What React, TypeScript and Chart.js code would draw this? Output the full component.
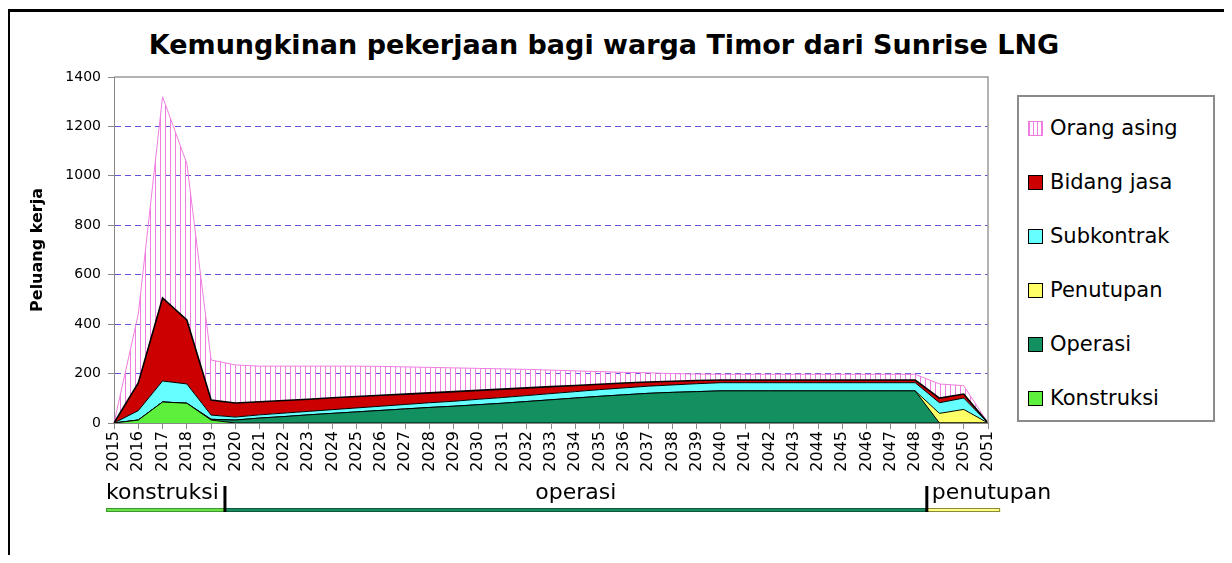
import React, { useEffect, useRef } from 'react';
import { Chart, registerables } from 'chart.js';

Chart.register(...registerables);

const years = [
  '2015', '2016', '2017', '2018', '2019', '2020', '2021', '2022', '2023', '2024',
  '2025', '2026', '2027', '2028', '2029', '2030', '2031', '2032', '2033', '2034',
  '2035', '2036', '2037', '2038', '2039', '2040', '2041', '2042', '2043', '2044',
  '2045', '2046', '2047', '2048', '2049', '2050', '2051',
];

const konstruksi = [0, 12, 85, 80, 12, 0, 0, 0, 0, 0, 0, 0, 0, 0, 0, 0, 0, 0, 0, 0, 0, 0, 0, 0, 0, 0, 0, 0, 0, 0, 0, 0, 0, 0, 0, 0, 0];
const operasi = [0, 0, 0, 0, 3, 12, 20, 26, 33, 39, 45, 51, 57, 63, 68, 74, 80, 87, 94, 101, 108, 114, 120, 124, 127, 130, 130, 130, 130, 130, 130, 130, 130, 130, 0, 0, 0];
const penutupan = [0, 0, 0, 0, 0, 0, 0, 0, 0, 0, 0, 0, 0, 0, 0, 0, 0, 0, 0, 0, 0, 0, 0, 0, 0, 0, 0, 0, 0, 0, 0, 0, 0, 0, 39, 55, 0];
const subkontrak = [0, 38, 85, 78, 17, 12, 13, 14, 14, 15, 16, 17, 18, 19, 20, 22, 23, 24, 25, 26, 27, 28, 29, 30, 32, 33, 33, 33, 33, 33, 33, 33, 33, 33, 43, 46, 0];
const bidangJasa = [0, 112, 336, 259, 61, 57, 53, 51, 49, 48, 46, 44, 42, 40, 39, 36, 34, 31, 28, 25, 22, 20, 17, 15, 13, 11, 11, 11, 11, 11, 11, 11, 11, 11, 19, 16, 0];
const orangAsing = [0, 278, 814, 633, 162, 154, 144, 139, 134, 128, 123, 117, 110, 103, 96, 89, 82, 75, 67, 59, 51, 43, 37, 31, 26, 23, 23, 23, 23, 23, 23, 23, 23, 23, 57, 34, 0];

const yTicks = [0, 200, 400, 600, 800, 1000, 1200, 1400];

// phases: label, start (category index), end (category index)
const phaseNames = ['konstruksi', 'operasi', 'penutupan'];
const phaseStarts = [-0.33, 4.57, 33.48];
const phaseEnds = [4.57, 33.48, 36.5];

const title = 'Kemungkinan pekerjaan bagi warga Timor dari Sunrise LNG';
const yTitle = 'Peluang kerja';

const PINK = '#f07ee0';
const colors = {
  konstruksi: '#5cf03c',
  operasi: '#13905f',
  penutupan: '#ffff66',
  subkontrak: '#66ffff',
  bidangJasa: '#cc0000',
};

const FONT = "'DejaVu Sans', Verdana, sans-serif";

const legendItems = [
  { label: 'Orang asing', color: 'hatch' },
  { label: 'Bidang jasa', color: colors.bidangJasa },
  { label: 'Subkontrak', color: colors.subkontrak },
  { label: 'Penutupan', color: colors.penutupan },
  { label: 'Operasi', color: colors.operasi },
  { label: 'Konstruksi', color: colors.konstruksi },
];

const phaseFill = ['#6be04a', '#1a8a5e', '#ffff88'];
const phaseStroke = ['#3c9a2a', '#0c5a3a', '#8a8a30'];

const framePlugin = {
  id: 'frameAndPhases',
  afterDraw(chart: any) {
    const { ctx, chartArea: a } = chart;
    const x = chart.scales.x;
    ctx.save();
    // plot border top/right
    ctx.strokeStyle = '#9a9a9a';
    ctx.lineWidth = 1.5;
    ctx.beginPath();
    ctx.moveTo(a.left, a.top);
    ctx.lineTo(a.right, a.top);
    ctx.lineTo(a.right, a.bottom);
    ctx.stroke();

    // phase bars
    const barY = a.bottom + 85;
    for (let i = 0; i < phaseNames.length; i++) {
      const x0 = x.getPixelForValue(phaseStarts[i]);
      const x1 = x.getPixelForValue(phaseEnds[i]);
      ctx.fillStyle = phaseFill[i];
      ctx.fillRect(x0, barY, x1 - x0, 4);
      ctx.strokeStyle = phaseStroke[i];
      ctx.lineWidth = 1;
      ctx.strokeRect(x0 + 0.5, barY + 0.5, x1 - x0 - 1, 3);
      ctx.fillStyle = '#000';
      ctx.font = `22px ${FONT}`;
      ctx.textBaseline = 'middle';
      if (i === 0) {
        ctx.textAlign = 'left';
        ctx.fillText(phaseNames[i], x0, a.bottom + 70);
      } else if (i === 1) {
        ctx.textAlign = 'center';
        ctx.fillText(phaseNames[i], (x0 + x1) / 2, a.bottom + 70);
      } else {
        ctx.textAlign = 'left';
        ctx.fillText(phaseNames[i], x0 + 5, a.bottom + 70);
      }
    }
    // boundary markers
    ctx.fillStyle = '#000';
    for (let i = 1; i < phaseNames.length; i++) {
      const xb = x.getPixelForValue(phaseStarts[i]);
      ctx.fillRect(xb - 1.5, a.bottom + 63, 3, 26);
    }
    ctx.restore();
  },
};

export default function App() {
  const ref = useRef<HTMLCanvasElement>(null);

  useEffect(() => {
    const canvas = ref.current!;
    const c2 = canvas.getContext('2d')!;
    const pc = document.createElement('canvas');
    pc.width = 5;
    pc.height = 5;
    const pctx = pc.getContext('2d')!;
    pctx.fillStyle = PINK;
    pctx.fillRect(2, 0, 1, 5);
    const hatch = c2.createPattern(pc, 'repeat');

    const mk = (label: string, data: number[], bg: any, border: string, fill: any, bw = 1) => ({
      label,
      data,
      backgroundColor: bg,
      borderColor: border,
      borderWidth: bw,
      pointRadius: 0,
      tension: 0,
      fill,
    });

    const chart = new Chart(canvas, {
      type: 'line',
      data: {
        labels: years,
        datasets: [
          mk('Konstruksi', konstruksi, colors.konstruksi, '#000', 'origin'),
          mk('Operasi', operasi, colors.operasi, '#000', '-1'),
          mk('Penutupan', penutupan, colors.penutupan, '#000', '-1'),
          mk('Subkontrak', subkontrak, colors.subkontrak, '#000', '-1'),
          mk('Bidang jasa', bidangJasa, colors.bidangJasa, '#000', '-1', 1.6),
          mk('Orang asing', orangAsing, hatch, PINK, '-1'),
        ],
      },
      options: {
        responsive: false,
        animation: false,
        layout: { padding: { left: 16, top: 69, right: 80, bottom: 70 } },
        plugins: {
          legend: { display: false },
          title: { display: false },
          tooltip: { enabled: false },
        },
        scales: {
          x: {
            type: 'category',
            offset: false,
            afterFit: (s: any) => { s.height = 55; },
            grid: {
              drawOnChartArea: false,
              drawTicks: true,
              tickLength: 6,
              tickColor: '#888',
              offset: false,
            },
            border: { display: true, color: '#888', width: 1 },
            ticks: {
              autoSkip: false,
              minRotation: 90,
              maxRotation: 90,
              padding: 2,
              color: '#000',
              font: { family: FONT, size: 16 },
            },
          },
          y: {
            stacked: true,
            min: 0,
            max: 1400,
            afterFit: (s: any) => { s.width = 90; },
            afterBuildTicks: (s: any) => { s.ticks = yTicks.map((v) => ({ value: v })); },
            grid: {
              color: (c: any) => (c.tick && (c.tick.value === 0 || c.tick.value === 1400) ? 'rgba(0,0,0,0)' : '#5f55d8'),
              lineWidth: 1,
              tickColor: '#888',
              tickLength: 6,
              tickBorderDash: [],
            },
            border: { display: true, color: '#888', width: 1, dash: [6, 4] },
            ticks: {
              padding: 7,
              color: '#000',
              font: { family: FONT, size: 14 },
              callback: (v: any) => String(v),
            },
            title: {
              display: true,
              text: yTitle,
              color: '#000',
              font: { family: FONT, size: 16, weight: 'bold' },
            },
          },
        },
      } as any,
      plugins: [framePlugin],
    });
    return () => chart.destroy();
  }, []);

  return (
    <div style={{ position: 'relative', width: 1224, height: 547, overflow: 'hidden' }}>
      <div
        style={{
          position: 'absolute', left: -1, top: 1, width: 1300, height: 700,
          borderTop: '3px solid #000', borderLeft: '3px solid #000',
        }}
      />
      <div
        style={{
          position: 'absolute', left: 0, top: 21, width: 1192, textAlign: 'center',
          fontFamily: FONT, fontWeight: 'bold', fontSize: 27, lineHeight: '32px', color: '#000',
        }}
      >
        {title}
      </div>
      <canvas ref={ref} width={1060} height={540} style={{ position: 'absolute', left: 0, top: 0, width: 1060, height: 540 }} />
      <div
        style={{
          position: 'absolute', left: 1009, top: 87, width: 194, height: 323,
          border: '2px solid #8a8a8a', background: '#fff',
        }}
      >
        {legendItems.map((it, i) => (
          <div
            key={it.label}
            style={{
              position: 'absolute', left: 9, top: 31 + i * 54 - 12, height: 24,
              display: 'flex', alignItems: 'center', fontFamily: FONT, fontSize: 21, color: '#000', whiteSpace: 'nowrap',
            }}
          >
            <span
              style={{
                display: 'inline-block', width: 13, height: 13, marginRight: 7,
                border: it.color === 'hatch' ? `1px solid ${PINK}` : '1.5px solid #000',
                background: it.color === 'hatch'
                  ? `repeating-linear-gradient(90deg, ${PINK} 0 1px, #fff 1px 4px)`
                  : it.color,
              }}
            />
            {it.label}
          </div>
        ))}
      </div>
    </div>
  );
}
